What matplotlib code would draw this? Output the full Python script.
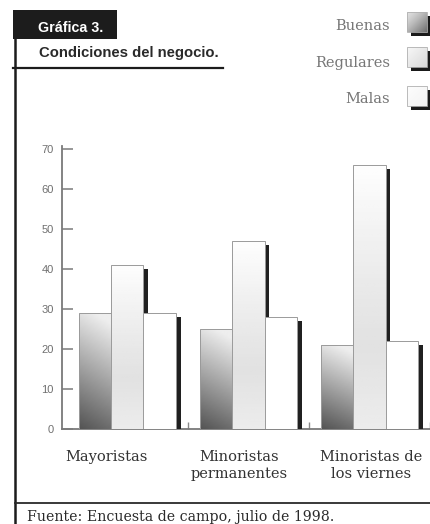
import numpy as np
import matplotlib
matplotlib.use("Agg")
import matplotlib.pyplot as plt
import matplotlib.transforms as mtransforms
from matplotlib.patches import Rectangle

# Survey results (percent of businesses) by business type
categories = ["Mayoristas", "Minoristas\npermanentes", "Minoristas de\nlos viernes"]
series_names = ["Buenas", "Regulares", "Malas"]
buenas = [29, 25, 21]
regulares = [41, 47, 66]
malas = [29, 28, 22]
yticks = [0, 10, 20, 30, 40, 50, 60, 70]

W, H = 430, 524
fig = plt.figure(figsize=(W / 100, H / 100), dpi=100)
fig.patch.set_facecolor("white")

SERIF = ["DejaVu Serif"]
SANS = ["Liberation Sans", "DejaVu Sans"]

# ---- main bar axes ----
left_px, zero_px, top_px = 62, 429, 149
ax = fig.add_axes([left_px / W, 1 - zero_px / H, 1 - left_px / W, (zero_px - top_px) / H])
ax.set_facecolor("none")

bw = 0.267
shadow_w = 0.04
shadow_drop = 1.0


def grad_buenas(ny=64, nx=32):
    ty = np.linspace(1, 0, ny)[:, None]
    tx = np.linspace(0, 1, nx)[None, :]
    return np.clip(0.33 + 0.55 * ty + 0.10 * tx, 0, 0.93)


def grad_regulares(ny=64, nx=32):
    ty = np.linspace(1, 0, ny)[:, None]
    g = 0.885 + 0.11 * np.clip((ty - 0.3) / 0.7, 0, 1) ** 1.2
    g = g + 0.04 * np.clip((0.3 - ty) / 0.3, 0, 1)
    return np.repeat(np.clip(g, 0, 1), nx, axis=1)


def grad_malas(ny=8, nx=8):
    return np.ones((ny, nx))


grads = [grad_buenas, grad_regulares, grad_malas]
series = [buenas, regulares, malas]

z = 2
for gi in range(len(categories)):
    for si, vals in enumerate(series):
        v = vals[gi]
        x0 = gi - 1.5 * bw + si * bw
        # drop shadow on the right side of each bar
        ax.add_patch(Rectangle((x0 + bw, 0), shadow_w, v - shadow_drop,
                               facecolor="#202020", edgecolor="none", zorder=z))
        z += 1
        img = ax.imshow(grads[si](), cmap="gray", vmin=0, vmax=1, aspect="auto",
                        extent=(x0, x0 + bw, 0, v), zorder=z, interpolation="bilinear")
        img.set_clip_path(Rectangle((x0, 0), bw, v, transform=ax.transData))
        ax.add_patch(Rectangle((x0, 0), bw, v, facecolor="none", edgecolor="#9a9a9a",
                               linewidth=0.7, zorder=z + 1))
        z += 2

ax.set_xlim(-0.539, 2.488)
ax.set_ylim(0, 70)

for s in ["top", "right"]:
    ax.spines[s].set_visible(False)
ax.spines["left"].set_color("#7a7a7a")
ax.spines["left"].set_linewidth(1.3)
ax.spines["left"].set_bounds(0, 70.7)
ax.spines["bottom"].set_color("#7a7a7a")
ax.spines["bottom"].set_linewidth(1.3)

ax.set_yticks(yticks)
ax.set_yticklabels([str(t) for t in yticks], fontfamily=SANS, fontsize=8, color="#707070")
ax.tick_params(axis="y", direction="in", length=8, width=1.1, color="#7a7a7a", pad=6)
ax.set_xticks([0.5, 1.5, 2.5])
ax.set_xticklabels([])
ax.tick_params(axis="x", direction="in", length=5, width=1.0, color="#8a8a8a")

# category names below the baseline
label_tr = mtransforms.blended_transform_factory(ax.transData, fig.transFigure)
label_x = [-0.17, 0.925, 2.01]
for lx, cat in zip(label_x, categories):
    ax.text(lx, 1 - 450 / H, cat, transform=label_tr, ha="center", va="top",
            fontsize=10.5, family=SERIF, color="#333333", linespacing=1.25)

# ---- page furniture: frame lines, heading, legend ----
deco = fig.add_axes([0, 0, 1, 1], zorder=5)
deco.axis("off")
deco.patch.set_visible(False)

deco.add_patch(Rectangle((13, 10), 104, 29, facecolor="#1c1c1c", edgecolor="none"))
deco.plot([15, 15], [10, H], color="#1c1c1c", linewidth=1.8, solid_capstyle="butt")
deco.plot([13, 223], [68, 68], color="#1c1c1c", linewidth=1.6)
deco.plot([15, W], [503, 503], color="#2a2a2a", linewidth=1.3)

deco.text(38, 32, "Gráfica 3.", color="white", fontsize=10.3, fontweight="bold",
          family=SANS, ha="left", va="baseline")
deco.text(39, 57, "Condiciones del negocio.", color="#2a2a2a", fontsize=10.7,
          fontweight="bold", family=SANS, ha="left", va="baseline")
deco.text(27, 521, "Fuente: Encuesta de campo, julio de 1998.", color="#2a2a2a",
          fontsize=10.2, family=SERIF, ha="left", va="baseline")

legend_rows = [(30, 12), (67, 47), (103, 86)]


def legend_grad(kind, n=40):
    ty = np.linspace(0, 1, n)[:, None]
    tx = np.linspace(0, 1, n)[None, :]
    if kind == 0:
        return np.clip(0.88 - 0.45 * (0.5 * ty + 0.5 * tx) ** 1.3, 0, 1)
    if kind == 1:
        return np.clip(0.97 - 0.12 * (0.5 * ty + 0.5 * tx), 0, 1)
    return np.clip(0.99 - 0.04 * (0.5 * ty + 0.5 * tx), 0, 1)


for i, (name, (base, top)) in enumerate(zip(series_names, legend_rows)):
    deco.text(390, base, name, ha="right", va="baseline", fontsize=10.5,
              family=SERIF, color="#777777")
    bx, by, bs = 407, top, 20
    deco.add_patch(Rectangle((bx + 4, by + 4), bs, bs, facecolor="#1a1a1a",
                             edgecolor="none", zorder=1))
    deco.imshow(legend_grad(i), cmap="gray", vmin=0, vmax=1, aspect="auto",
                extent=(bx, bx + bs, by + bs, by), zorder=2, interpolation="bilinear")
    deco.add_patch(Rectangle((bx, by), bs, bs, facecolor="none", edgecolor="#b0b0b0",
                             linewidth=0.6, zorder=3))

deco.set_xlim(0, W)
deco.set_ylim(H, 0)

fig.savefig("out.png", dpi=100)
